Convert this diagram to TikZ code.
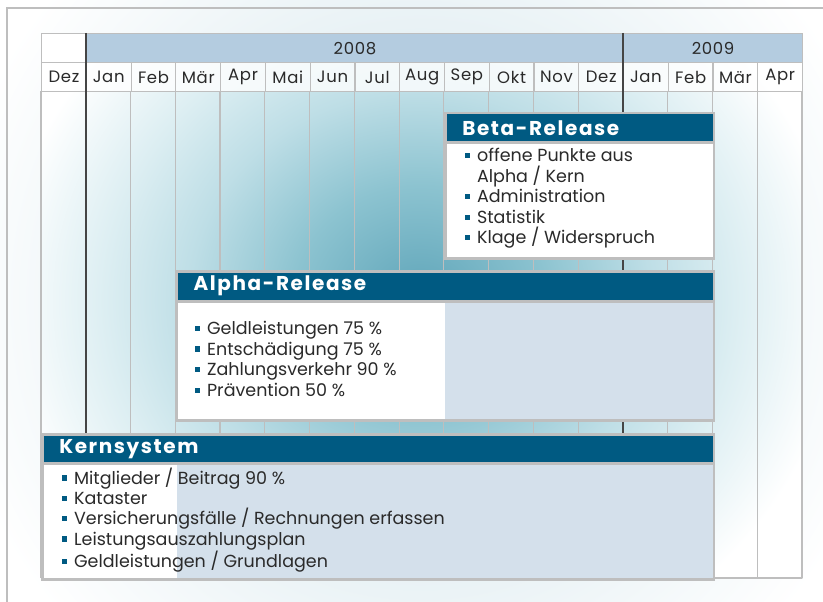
\documentclass[tikz,border=0pt]{standalone}
\usepackage{fontspec}
\setmainfont{Poppins}
\newfontfamily\headfont[LetterSpace=8]{Poppins}
\newfontfamily\monthfont[LetterSpace=4]{Poppins}
\usetikzlibrary{positioning}

\definecolor{hdblue}{HTML}{005A82}
\definecolor{yearblue}{HTML}{B4CCE0}
\definecolor{bodyblue}{HTML}{D4E0EB}
\definecolor{gridgray}{HTML}{BEBEBE}
\definecolor{darkline}{HTML}{454545}
\definecolor{txt}{HTML}{2A2A2A}
\definecolor{glowa}{HTML}{5FA5B9}
\definecolor{glowb}{HTML}{8CC3D0}
\definecolor{glowc}{HTML}{BEDEE6}
\definecolor{glowd}{HTML}{DCEEF2}
\definecolor{paleglow}{HTML}{E4EFF3}

\pgfdeclareradialshading{glow}{\pgfpoint{0bp}{0bp}}{color(0bp)=(glowa); color(7.5bp)=(glowb); color(13.75bp)=(glowc); color(18.75bp)=(glowd); color(25bp)=(white); color(50bp)=(white)}
\pgfdeclareradialshading{faintglow}{\pgfpoint{0bp}{0bp}}{color(0bp)=(paleglow); color(12bp)=(paleglow); color(25bp)=(white); color(50bp)=(white)}

\newcommand\itm{\textcolor{hdblue}{\rule[0.2em]{0.3em}{0.3em}}\hspace{0.38em}}

\tikzset{
  cell/.style={draw=gridgray, line width=1.2pt, fill=white, fill opacity=.8, text opacity=1,
    minimum width=44.76pt, minimum height=29pt, inner sep=0pt, anchor=north west,
    text=txt, font=\monthfont\fontsize{16.5}{16.5}\selectfont},
  yearcell/.style={cell, fill=yearblue, fill opacity=1},
  gridline/.style={gridgray, line width=1.2pt},
  yearline/.style={darkline, line width=1.6pt},
  boxhead/.style={draw=gridgray, line width=2.5pt, fill=hdblue, anchor=north west,
    inner xsep=17pt, inner ysep=0pt, align=left, text=white,
    font=\headfont\bfseries\fontsize{20}{20}\selectfont},
  boxbody/.style={draw=gridgray, line width=2.5pt, fill=bodyblue, anchor=north west, inner sep=0pt},
  items/.style={anchor=north west, inner sep=0pt, align=left, text=txt,
    font=\fontsize{17.5}{20.6}\selectfont}
}

\begin{document}
\begin{tikzpicture}[x=1pt,y=-1pt]
	\useasboundingbox (0,0) rectangle (823,602);
	% glow
	\fill[shading=faintglow] (-60,-180) rectangle (900,780);
	\draw[gridgray, line width=1.2pt] (7,602) -- (7,8) -- (823,8);
	\begin{scope}
		\clip (41,62) rectangle (802,578);
		\fill[white] (41,62) rectangle (802,578);
		\fill[shading=glow] (0,-80) rectangle (840,680);
	\end{scope}
	
	% years
	\node[cell, fill opacity=1, minimum width=44.76pt] (y2007) at (41,33) {};
	\node[yearcell, minimum width=537.2pt] (y2008) at (85.8,33) {2008};
	\node[yearcell, minimum width=179.1pt] (y2009) at (622.9,33) {2009};
	
	% months
	\foreach \m [count=\i from 0] in {Dez,Jan,Feb,Mär,Apr,Mai,Jun,Jul,Aug,Sep,Okt,Nov,Dez,Jan,Feb,Mär,Apr}
		\node[cell] (m\i) at ({41+\i*44.765},62) {\m};
	
	% columns
	\foreach \i in {0,...,17}
		\draw[gridline] ({41+\i*44.765},91) -- ({41+\i*44.765},578);
	\draw[gridline] (41,578) -- (802,578);
	\draw[yearline] (85.8,33) -- (85.8,578);
	\draw[yearline] (622.9,33) -- (622.9,578);
	
	% Beta
	\node[boxhead, text width=234.5pt, minimum height=29pt] (beta-head) at (444,112) {Beta-Release};
	\node[boxbody, fill=white, minimum width=268.5pt, minimum height=116pt] (beta-body) at (444,141) {};
	\node[items] (beta-items) at (465,148) {\itm offene Punkte aus\\\phantom{\itm}Alpha / Kern\\\itm Administration\\\itm Statistik\\\itm Klage / Widerspruch};
	
	% Alpha
	\node[boxhead, text width=503.2pt, minimum height=30pt] (alpha-head) at (175.3,270) {Alpha-Release};
	\node[boxbody, minimum width=537.2pt, minimum height=119pt,
		path picture={\fill[white] (path picture bounding box.north west) rectangle ++(268.7pt,-119pt);}] (alpha-body) at (175.3,300) {};
	\node[items] (alpha-items) at (195,321) {\itm Geldleistungen 75~\%\\\itm Entschädigung 75~\%\\\itm Zahlungsverkehr 90~\%\\\itm Prävention 50~\%};
	
	% Kern
	\node[boxhead, text width=637.7pt, minimum height=29pt] (kern-head) at (41,433) {Kernsystem};
	\node[boxbody, minimum width=671.7pt, minimum height=116pt,
		path picture={\fill[white] (path picture bounding box.north west) rectangle ++(134.3pt,-116pt);}] (kern-body) at (41,462) {};
	\node[items, font=\fontsize{17.5}{20.3}\selectfont] (kern-items) at (62,467.5) {\itm Mitglieder / Beitrag 90~\%\\\itm Kataster\\\itm Versicherungsfälle / Rechnungen erfassen\\\itm Leistungsauszahlungsplan\\\itm Geldleistungen / Grundlagen};
\end{tikzpicture}
\end{document}
